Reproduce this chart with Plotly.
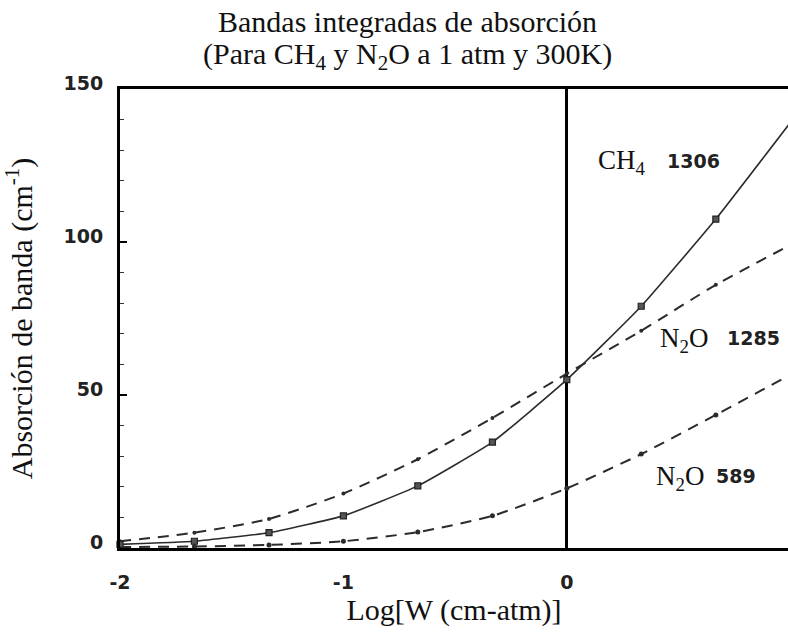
import plotly.graph_objects as go

# Log10 of absorber amount W (cm-atm)
log_w = [-2.0, -1.667, -1.333, -1.0, -0.667, -0.333, 0.0, 0.333, 0.667, 1.0]

# Integrated band absorption (cm^-1)
ch4_1306 = [1.2, 2.2, 5.0, 10.5, 20.3, 34.6, 55.0, 79.0, 107.5, 139.0]
n2o_1285 = [2.2, 5.0, 9.5, 17.8, 29.0, 42.5, 57.0, 71.0, 86.0, 99.0]
n2o_589 = [0.3, 0.5, 1.0, 2.2, 5.2, 10.5, 19.5, 30.7, 43.5, 56.6]

y_ticks = [0, 50, 100, 150]
x_ticks = [-2, -1, 0]
x_tick_text = ["-2", "-1", "0"]

title_lines = [
    "Bandas integradas de absorción",
    "(Para CH<sub>4</sub> y N<sub>2</sub>O a 1 atm y 300K)",
]

SERIF = "Liberation Serif"
SANS_BOLD = "DejaVu Sans"
LINE = "#2b2b2b"

fig = go.Figure()

fig.add_trace(go.Scatter(
    x=log_w, y=n2o_1285, mode="lines+markers",
    line=dict(color=LINE, width=2, dash="11px,8px", shape="spline", smoothing=0.6),
    marker=dict(symbol="circle", size=4, color=LINE),
    cliponaxis=False, showlegend=False,
))
fig.add_trace(go.Scatter(
    x=log_w, y=n2o_589, mode="lines+markers",
    line=dict(color=LINE, width=2, dash="11px,8px", shape="spline", smoothing=0.6),
    marker=dict(symbol="circle", size=5, color=LINE),
    cliponaxis=False, showlegend=False,
))
fig.add_trace(go.Scatter(
    x=log_w, y=ch4_1306, mode="lines+markers",
    line=dict(color=LINE, width=1.6, shape="spline", smoothing=0.4),
    marker=dict(symbol="square", size=6, color="#555555",
                line=dict(color="#222222", width=1.2)),
    cliponaxis=False, showlegend=False,
))

# Band labels: species in serif, band centre (cm^-1) in bold sans
labels = [
    (0.13, 126, "CH<sub>4</sub>", "1306", 0.44),
    (0.41, 68, "N<sub>2</sub>O", "1285", 0.71),
    (0.39, 23, "N<sub>2</sub>O", "589", 0.66),
]
for xs, ys, species, band, xb in labels:
    fig.add_annotation(x=xs, y=ys, xref="x", yref="y", text=species,
                       showarrow=False, xanchor="left", yanchor="middle",
                       font=dict(family=SERIF, size=27, color="#111111"))
    fig.add_annotation(x=xb, y=ys + 0.5, xref="x", yref="y", text=band,
                       showarrow=False, xanchor="left", yanchor="middle",
                       font=dict(family=SANS_BOLD, size=19, color="#222222",
                                 weight="bold"))

# Two-line heading above the plot area
for line_text, y_pos in zip(title_lines, [1.146, 1.072]):
    fig.add_annotation(x=0.431, y=y_pos, xref="paper", yref="paper",
                       text=line_text, showarrow=False,
                       xanchor="center", yanchor="middle",
                       font=dict(family=SERIF, size=30, color="#111111"))

fig.update_layout(
    width=788, height=635,
    margin=dict(l=120, r=0, t=89, b=87),
    paper_bgcolor="white", plot_bgcolor="white",
)

fig.update_xaxes(
    range=[-2, 0.99], tickvals=x_ticks, ticktext=x_tick_text,
    showgrid=False, ticks="",
    showline=True, linecolor="black", linewidth=3, mirror=True,
    zeroline=True, zerolinecolor="black", zerolinewidth=3,
    tickfont=dict(family=SANS_BOLD, size=19, color="#222222", weight="bold"),
    ticklabelstandoff=15,
    title=dict(text="Log[W (cm-atm)]", font=dict(family=SERIF, size=30, color="#111111"),
               standoff=8),
)
fig.update_yaxes(
    range=[0, 150], tickvals=y_ticks, showgrid=False,
    ticks="inside", ticklen=7, tickwidth=1.5, tickcolor="black",
    minor=dict(dtick=10, ticks="inside", ticklen=4, tickwidth=1.2, tickcolor="#333333"),
    showline=True, linecolor="black", linewidth=3,
    zeroline=False,
    tickfont=dict(family=SANS_BOLD, size=19, color="#222222", weight="bold"),
    ticklabelstandoff=10, ticklabelshift=-6,
    title=dict(text="Absorción de banda (cm<sup>-1</sup>)",
               font=dict(family=SERIF, size=30, color="#111111"), standoff=24),
)

fig.write_html("out.html")
